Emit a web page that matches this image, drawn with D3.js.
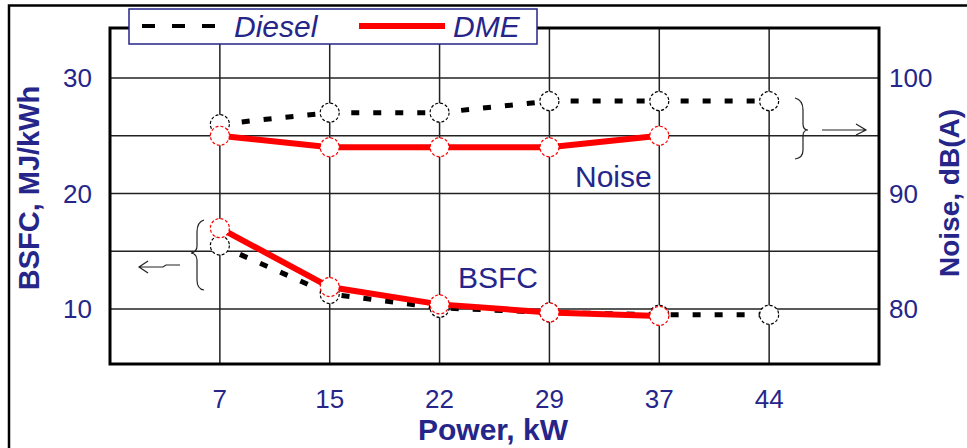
<!DOCTYPE html>
<html>
<head>
<meta charset="utf-8">
<script src="https://cdn.jsdelivr.net/npm/d3@7"></script>
<style>
  body { margin: 0; background: #fff; }
  svg { display: block; font-family: "Liberation Sans", Arial, sans-serif; }
</style>
</head>
<body>
<div id="canvas"></div>
<script>
// power points (kW)
var powers = [7, 15, 22, 29, 37, 44];

// BSFC, MJ/kWh (left axis)
var bsfcDiesel = [15.5, 11.3, 10.1, 9.7, 9.5, 9.5];
var bsfcDME = [17.0, 11.9, 10.4, 9.7, 9.4];

// Noise, dB(A) (right axis)
var noiseDiesel = [96, 97, 97, 98, 98, 98];
var noiseDME = [95, 94, 94, 94, 95];

var leftTicks = [10, 20, 30];
var rightTicks = [80, 90, 100];
var gridTicks = [10, 15, 20, 25, 30];

var navy = "#25258a";

var width = 967, height = 448;
var margin = { top: 28, right: 88, bottom: 84, left: 110 };

var svg = d3.select("#canvas").append("svg")
  .attr("width", width)
  .attr("height", height);

// outer frame (only top and left edges show)
svg.append("path")
  .attr("d", "M9,448V5.5H967")
  .attr("fill", "none")
  .attr("stroke", "#000")
  .attr("stroke-width", 2.5);

// scales
var x = d3.scaleLinear()
  .domain([0, powers.length + 1])
  .range([margin.left, width - margin.right]);
var y = d3.scaleLinear()
  .domain([10, 30])
  .range([309, 78]);
var yR = d3.scaleLinear()
  .domain([80, 100])
  .range([309, 78]);

var plotTop = margin.top, plotBottom = height - margin.bottom;

// grid
svg.append("g")
  .selectAll("line")
  .data(gridTicks)
  .enter().append("line")
  .attr("x1", x(0)).attr("x2", x(powers.length + 1))
  .attr("y1", function(d) { return y(d); })
  .attr("y2", function(d) { return y(d); })
  .attr("stroke", "#222")
  .attr("stroke-width", 1.5);

svg.append("g")
  .selectAll("line")
  .data(powers)
  .enter().append("line")
  .attr("x1", function(d, i) { return x(i + 1); })
  .attr("x2", function(d, i) { return x(i + 1); })
  .attr("y1", plotTop).attr("y2", plotBottom)
  .attr("stroke", "#222")
  .attr("stroke-width", 1.5);

// plot frame
svg.append("rect")
  .attr("x", x(0)).attr("y", plotTop)
  .attr("width", x(powers.length + 1) - x(0))
  .attr("height", plotBottom - plotTop)
  .attr("fill", "none")
  .attr("stroke", "#000")
  .attr("stroke-width", 3);

// axes labels
svg.append("g")
  .selectAll("text")
  .data(leftTicks)
  .enter().append("text")
  .attr("x", 92)
  .attr("y", function(d) { return y(d); })
  .attr("dy", "0.36em")
  .attr("text-anchor", "end")
  .attr("font-size", 26)
  .attr("fill", navy)
  .text(function(d) { return d; });

svg.append("g")
  .selectAll("text")
  .data(rightTicks)
  .enter().append("text")
  .attr("x", 889)
  .attr("y", function(d) { return yR(d); })
  .attr("dy", "0.36em")
  .attr("font-size", 26)
  .attr("fill", navy)
  .text(function(d) { return d; });

svg.append("g")
  .selectAll("text")
  .data(powers)
  .enter().append("text")
  .attr("x", function(d, i) { return x(i + 1); })
  .attr("y", 408)
  .attr("text-anchor", "middle")
  .attr("font-size", 26)
  .attr("fill", navy)
  .text(function(d) { return d; });

svg.append("text")
  .attr("x", 493).attr("y", 440)
  .attr("text-anchor", "middle")
  .attr("font-size", 30)
  .attr("font-weight", "bold")
  .attr("fill", navy)
  .text("Power, kW");

svg.append("text")
  .attr("transform", "translate(39,188) rotate(-90)")
  .attr("text-anchor", "middle")
  .attr("font-size", 29)
  .attr("font-weight", "bold")
  .attr("fill", navy)
  .text("BSFC, MJ/kWh");

svg.append("text")
  .attr("transform", "translate(959,193) rotate(-90)")
  .attr("text-anchor", "middle")
  .attr("font-size", 28)
  .attr("font-weight", "bold")
  .attr("fill", navy)
  .text("Noise, dB(A)");

// annotations
svg.append("text")
  .attr("x", 575).attr("y", 187)
  .attr("font-size", 30)
  .attr("fill", navy)
  .text("Noise");
svg.append("text")
  .attr("x", 458).attr("y", 288)
  .attr("font-size", 30)
  .attr("fill", navy)
  .text("BSFC");

// braces and arrows
var deco = svg.append("g")
  .attr("fill", "none")
  .attr("stroke", "#222")
  .attr("stroke-width", 1.2);
deco.append("path")
  .attr("d", "M795,98 Q803,100 803,110 V124 Q803,130 808,130 Q803,130 803,136 V150 Q803,158 795,159");
deco.append("path")
  .attr("d", "M822,130 H866 M856,124 L866,130 L856,135");
deco.append("path")
  .attr("d", "M204,220 Q197,222 197,232 V246 Q197,252 191,253 Q197,254 197,260 V280 Q197,289 204,290");
deco.append("path")
  .attr("d", "M180,265 H166 L163,267 H139 M148,261 L139,267 L148,273");

// series
function drawSeries(vals, scale, color, w, dash) {
  var line = d3.line()
    .x(function(d, i) { return x(i + 1); })
    .y(function(d) { return scale(d); });
  svg.append("path")
    .datum(vals)
    .attr("d", line)
    .attr("fill", "none")
    .attr("stroke", color)
    .attr("stroke-width", w)
    .attr("stroke-dasharray", dash);
}
function drawMarkers(vals, scale, color) {
  svg.append("g")
    .selectAll("circle")
    .data(vals)
    .enter().append("circle")
    .attr("cx", function(d, i) { return x(i + 1); })
    .attr("cy", function(d) { return scale(d); })
    .attr("r", 9.5)
    .attr("fill", "#fff")
    .attr("stroke", color)
    .attr("stroke-width", 1.2)
    .attr("stroke-dasharray", "3,2");
}

drawSeries(noiseDiesel, yR, "#000", 5, "8,14");
drawSeries(bsfcDiesel, y, "#000", 5, "8,14");
drawMarkers(noiseDiesel, yR, "#000");
drawMarkers(bsfcDiesel, y, "#000");

drawSeries(noiseDME, yR, "#ff0000", 6, null);
drawSeries(bsfcDME, y, "#ff0000", 6, null);
drawMarkers(noiseDME, yR, "#ff0000");
drawMarkers(bsfcDME, y, "#ff0000");

// legend
var legend = svg.append("g");
legend.append("rect")
  .attr("x", 129).attr("y", 9)
  .attr("width", 408).attr("height", 35)
  .attr("fill", "#fff")
  .attr("stroke", navy)
  .attr("stroke-width", 1.5);
legend.append("line")
  .attr("x1", 142).attr("x2", 222)
  .attr("y1", 26).attr("y2", 26)
  .attr("stroke", "#000")
  .attr("stroke-width", 4)
  .attr("stroke-dasharray", "13,17");
legend.append("text")
  .attr("x", 234).attr("y", 37)
  .attr("font-size", 30)
  .attr("font-style", "italic")
  .attr("fill", navy)
  .text("Diesel");
legend.append("line")
  .attr("x1", 359).attr("x2", 445)
  .attr("y1", 26).attr("y2", 26)
  .attr("stroke", "#ff0000")
  .attr("stroke-width", 6);
legend.append("text")
  .attr("x", 453).attr("y", 37)
  .attr("font-size", 30)
  .attr("font-style", "italic")
  .attr("fill", navy)
  .text("DME");
</script>
</body>
</html>
